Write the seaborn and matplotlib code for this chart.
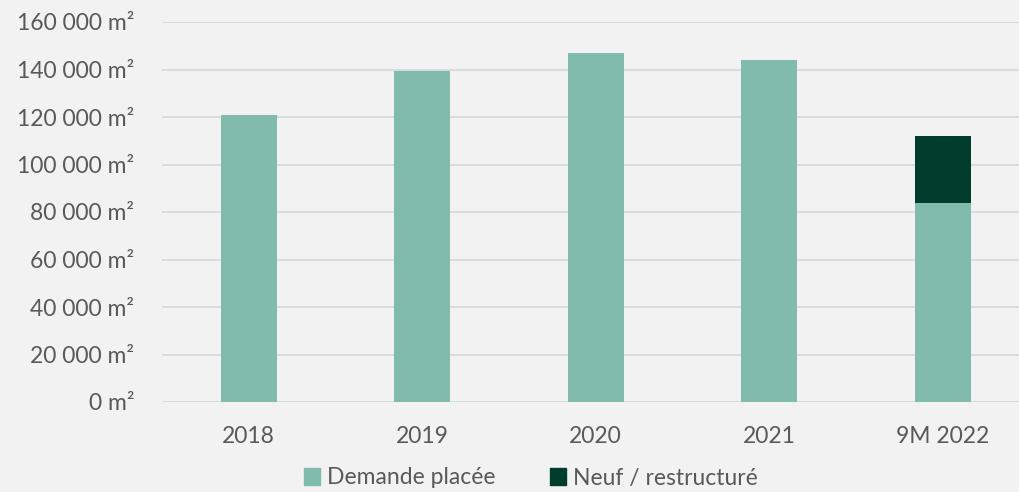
import pandas as pd
import matplotlib
matplotlib.use("Agg")
import matplotlib.pyplot as plt
import seaborn as sns
from matplotlib.patches import Patch
from matplotlib.ticker import FuncFormatter

# Données
categories = ["2018", "2019", "2020", "2021", "9M 2022"]
demande_placee = [121000, 139500, 147000, 144000, 84000]
neuf_restructure = [0, 0, 0, 0, 28000]

LIGHT = "#80BBAD"
DARK = "#003D2C"
BG = "#F2F2F2"
TXT = "#595959"

df = pd.DataFrame({
    "annee": categories,
    "demande": demande_placee,
    "total": [a + b for a, b in zip(demande_placee, neuf_restructure)],
})

sns.set_style("white")
plt.rcParams["font.family"] = ["Lato", "DejaVu Sans"]

fig = plt.figure(figsize=(10.19, 4.92), dpi=100, facecolor=BG)
ax = fig.add_axes([162 / 1019, 90 / 492, 867.5 / 1019, 380 / 492])
ax.set_facecolor(BG)

# empilement : total en foncé puis demande placée par-dessus
sns.barplot(data=df, x="annee", y="total", color=DARK, width=0.32,
            saturation=1, linewidth=0, ax=ax, zorder=3)
sns.barplot(data=df, x="annee", y="demande", color=LIGHT, width=0.32,
            saturation=1, linewidth=0, ax=ax, zorder=4)

ax.set_ylim(0, 160000)
ax.set_xlim(-0.5, 4.5)
ax.set_yticks(range(0, 160001, 20000))
ax.yaxis.set_major_formatter(FuncFormatter(
    lambda v, p: f"{int(v):,}".replace(",", " ") + " m²"))
ax.grid(axis="y", color="#D5DADA", lw=1.3, zorder=0)
for s in ax.spines.values():
    s.set_visible(False)
ax.tick_params(axis="both", length=0, labelsize=16.5, labelcolor=TXT)
ax.tick_params(axis="y", pad=20)
ax.tick_params(axis="x", pad=17)
ax.set_xlabel("")
ax.set_ylabel("")

handles = [Patch(color=LIGHT, label="Demande placée"),
           Patch(color=DARK, label="Neuf / restructuré")]
leg = fig.legend(handles=handles, loc="center", bbox_to_anchor=(531 / 1019, 14 / 492),
                 ncol=2, frameon=False, fontsize=16.5, handlelength=0.7,
                 handleheight=0.7, handletextpad=0.3, columnspacing=2.4,
                 borderaxespad=0)
for t in leg.get_texts():
    t.set_color(TXT)

fig.savefig("out.png", dpi=100, facecolor=BG)
